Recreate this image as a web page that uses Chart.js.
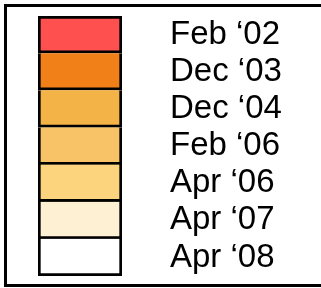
<!DOCTYPE html>
<html>
<head>
<meta charset="utf-8">
<script src="https://cdn.jsdelivr.net/npm/chart.js@4/dist/chart.umd.min.js"></script>
<style>
  html, body { margin: 0; padding: 0; background: #fff; }
  #legendChart { display: block; }
</style>
</head>
<body>
<canvas id="legendChart" width="321" height="288"></canvas>
<script>
// legend entries, top to bottom
const periods = ['Feb \u201802', 'Dec \u201803', 'Dec \u201804', 'Feb \u201806', 'Apr \u201806', 'Apr \u201807', 'Apr \u201808'];
const swatchColors = ['#FF5050', '#F28018', '#F4B347', '#F8C366', '#FCD47E', '#FDF0D3', '#FFFFFF'];
const swatchValues = [1, 1, 1, 1, 1, 1, 1];

// outer frame round the legend (right side runs off the picture)
const framePlugin = {
  id: 'frame',
  beforeDraw(chart) {
    const ctx = chart.ctx;
    ctx.save();
    ctx.fillStyle = '#fff';
    ctx.fillRect(0, 0, chart.width, chart.height);
    ctx.strokeStyle = '#000';
    ctx.lineWidth = 3;
    ctx.strokeRect(5.5, 5.5, 400, 280);
    ctx.restore();
  }
};

new Chart(document.getElementById('legendChart'), {
  type: 'bar',
  data: {
    labels: periods,
    datasets: [{
      data: swatchValues,
      backgroundColor: swatchColors,
      borderColor: '#000',
      borderSkipped: false,
      borderWidth: c => ({ left: 3, right: 3, bottom: 3, top: c.dataIndex === 0 ? 3 : 0 }),
      barPercentage: 1,
      categoryPercentage: 1
    }]
  },
  options: {
    indexAxis: 'y',
    responsive: false,
    animation: false,
    layout: { padding: { left: 38, top: 16, bottom: 12, right: 0 } },
    plugins: { legend: { display: false }, tooltip: { enabled: false } },
    scales: {
      x: { display: false, min: 0, max: 1 },
      y: {
        position: 'right',
        grid: { display: false, drawTicks: false },
        border: { display: false },
        ticks: {
          color: '#000',
          padding: 48,
          autoSkip: false,
          font: { family: "'Liberation Sans', Arial, sans-serif", size: 33 }
        },
        afterFit: scale => {
          scale.width = 199;
          // labels sit inside the bands, so no extra room above/below
          scale.paddingTop = 0;
          scale.paddingBottom = 0;
        }
      }
    }
  },
  plugins: [framePlugin]
});
</script>
</body>
</html>
